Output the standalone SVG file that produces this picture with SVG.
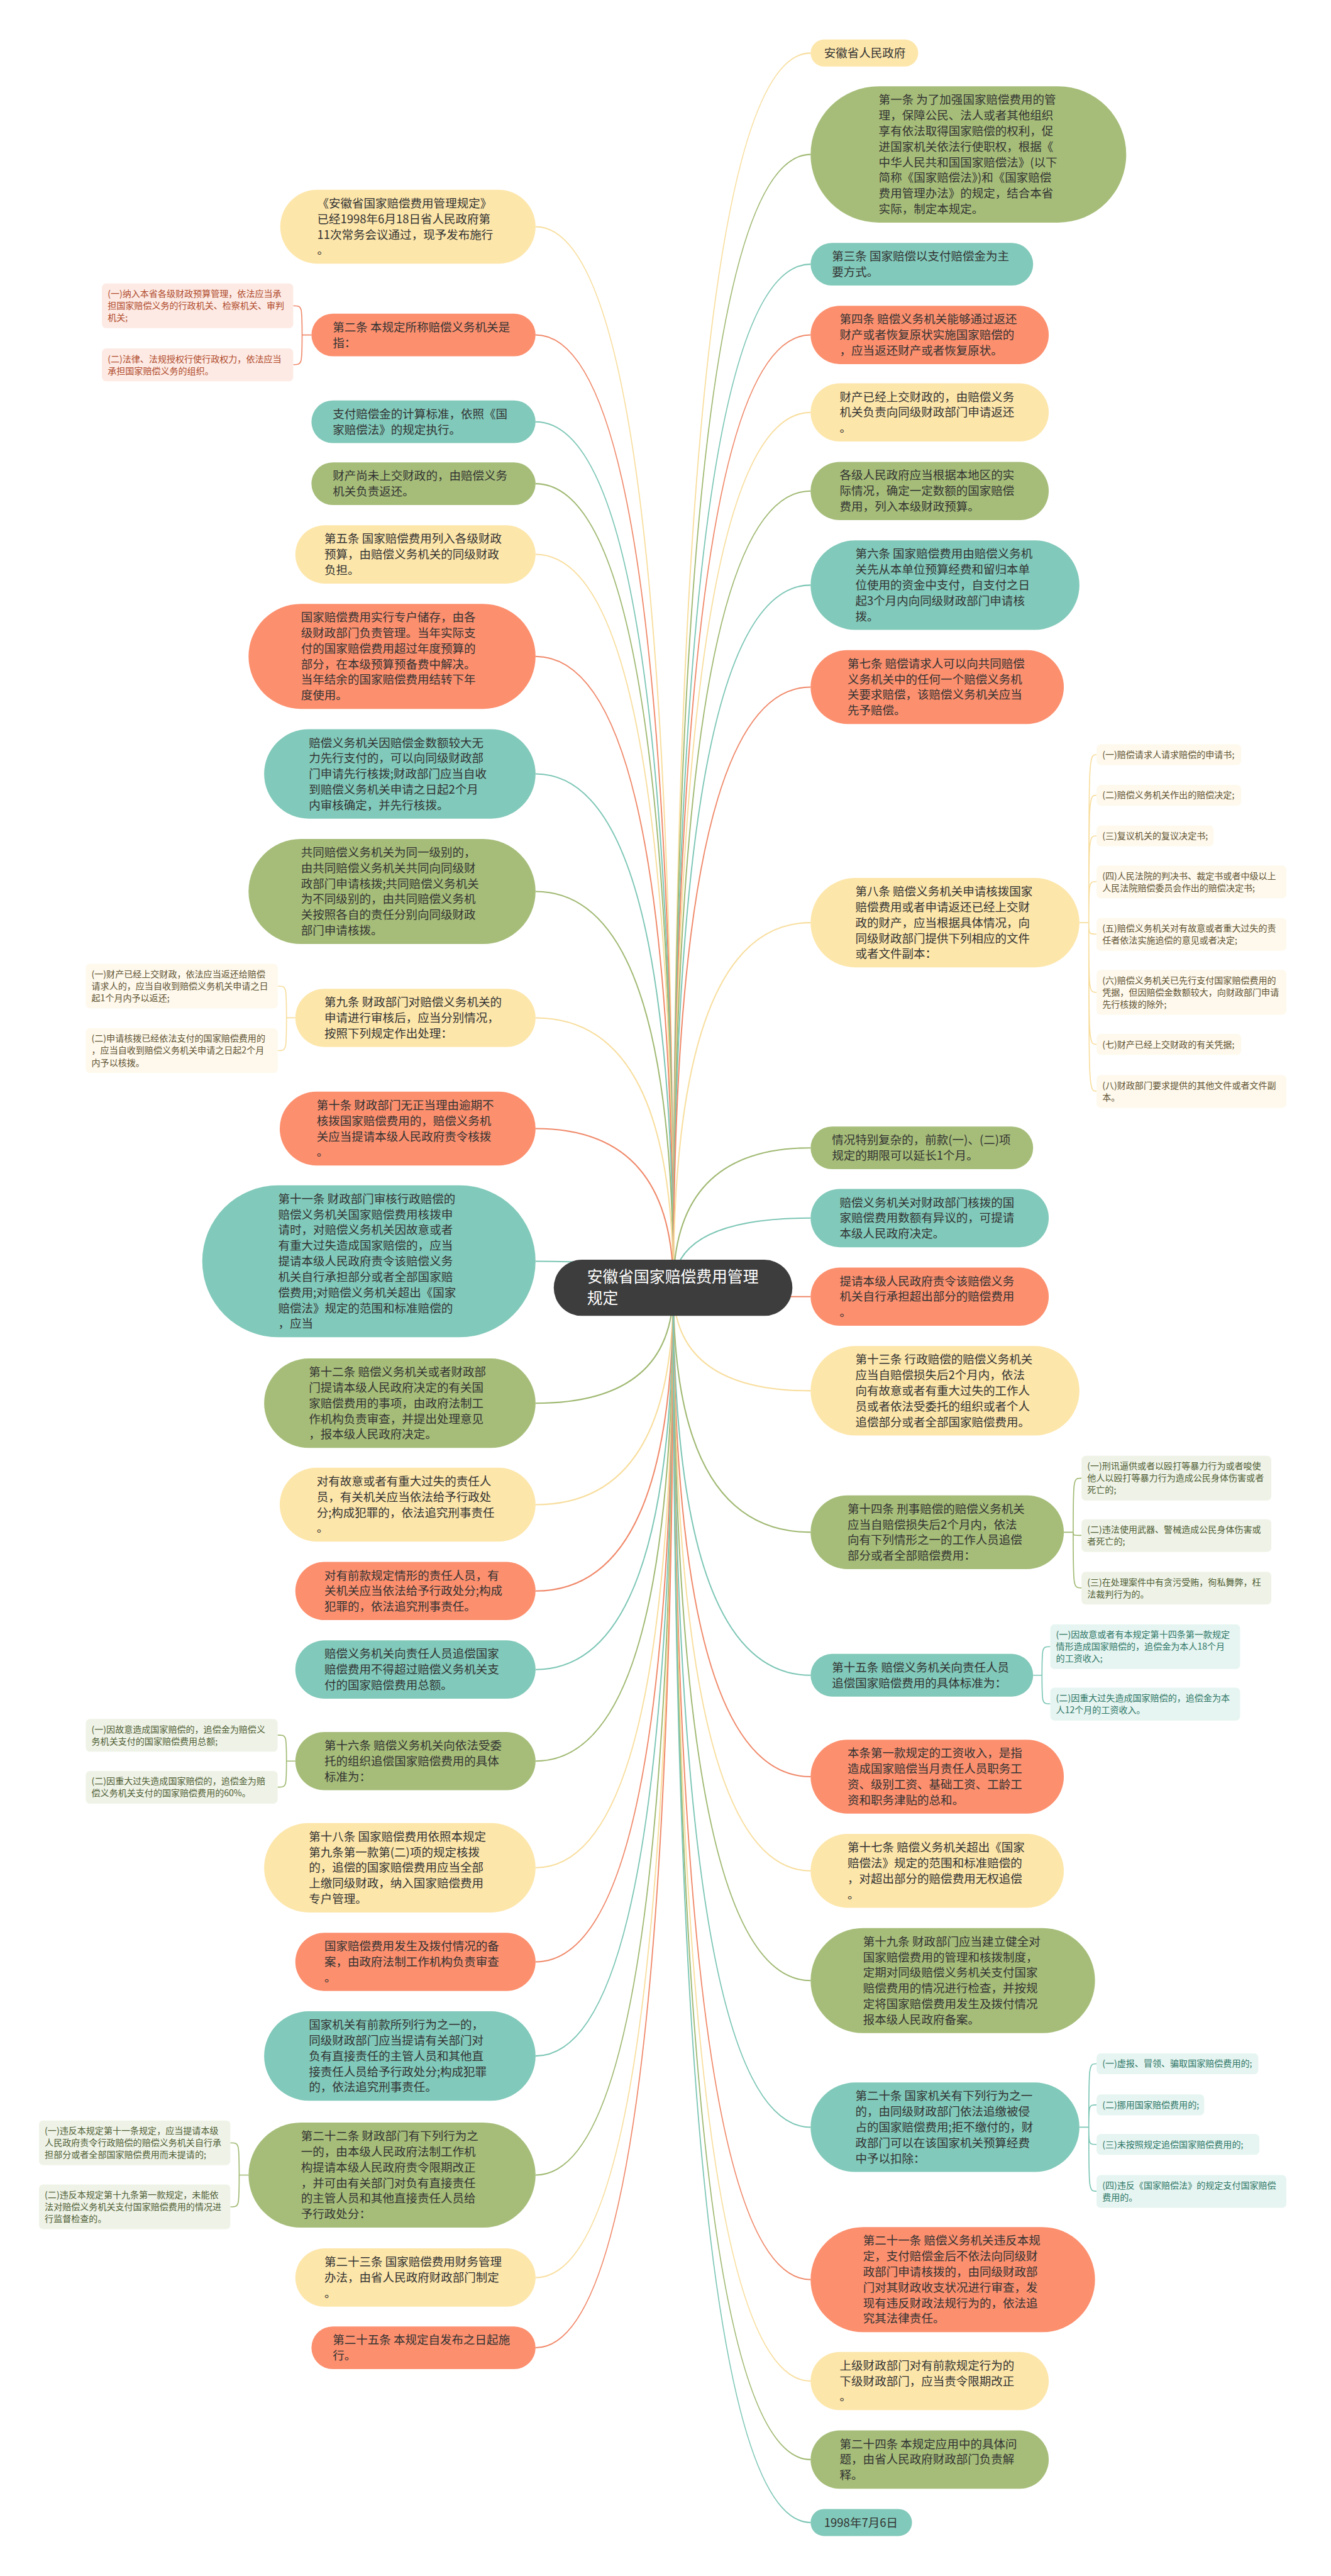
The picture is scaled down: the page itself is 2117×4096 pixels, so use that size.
<svg xmlns="http://www.w3.org/2000/svg" width="2117" height="4096" viewBox="0 0 2117 4096">
<style>
.y{fill:#FDE6AA}.o{fill:#FC8F6E}.t{fill:#81C9BA}.g{fill:#A6BD79}
.sy{fill:#FEF9EC}.so{fill:#FDEAE4}.sg{fill:#EFF3E7}.sc{fill:#E6F5F1}
.tx{font-family:"Noto Sans CJK SC","Noto Sans",sans-serif;font-size:22.4px;fill:#333333}
.ts{font-family:"Noto Sans CJK SC","Noto Sans",sans-serif;font-size:17px}
.tso{fill:#B04A2C}.tsy{fill:#5E5233}.tsg{fill:#4F5E36}.tsc{fill:#2E7567}
.cy{stroke:#F8DE9E}.co{stroke:#F0896A}.ct{stroke:#7CC6B5}.cg{stroke:#A0B972}
#links path{fill:none;stroke-width:2.5}
#sublinks path{fill:none;stroke-width:2}
</style>
<rect x="0" y="0" width="2117" height="4096" fill="#FFFFFF"/>
<g transform="scale(0.827)">
<g id="links">
<path class="cy" d="M1030 436Q1295 436 1295 2476"/>
<path class="co" d="M1030 644Q1295 644 1295 2476"/>
<path class="ct" d="M1030 811Q1295 811 1295 2476"/>
<path class="cg" d="M1030 930Q1295 930 1295 2476"/>
<path class="cy" d="M1030 1066Q1295 1066 1295 2476"/>
<path class="co" d="M1030 1262Q1295 1262 1295 2476"/>
<path class="ct" d="M1030 1488Q1295 1488 1295 2476"/>
<path class="cg" d="M1030 1714Q1295 1714 1295 2476"/>
<path class="cy" d="M1030 1957Q1295 1957 1295 2476"/>
<path class="co" d="M1030 2170Q1295 2170 1295 2476"/>
<path class="ct" d="M1030 2425Q1295 2425 1295 2476"/>
<path class="cg" d="M1030 2698Q1295 2698 1295 2476"/>
<path class="cy" d="M1030 2893Q1295 2893 1295 2476"/>
<path class="co" d="M1030 3059Q1295 3059 1295 2476"/>
<path class="ct" d="M1030 3210Q1295 3210 1295 2476"/>
<path class="cg" d="M1030 3386Q1295 3386 1295 2476"/>
<path class="cy" d="M1030 3591Q1295 3591 1295 2476"/>
<path class="co" d="M1030 3772Q1295 3772 1295 2476"/>
<path class="ct" d="M1030 3953Q1295 3953 1295 2476"/>
<path class="cg" d="M1030 4182Q1295 4182 1295 2476"/>
<path class="cy" d="M1030 4379Q1295 4379 1295 2476"/>
<path class="co" d="M1030 4514Q1295 4514 1295 2476"/>
<path class="cy" d="M1559 102Q1295 102 1295 2476"/>
<path class="cg" d="M1559 297Q1295 297 1295 2476"/>
<path class="ct" d="M1559 508Q1295 508 1295 2476"/>
<path class="co" d="M1559 644Q1295 644 1295 2476"/>
<path class="cy" d="M1559 793Q1295 793 1295 2476"/>
<path class="cg" d="M1559 944Q1295 944 1295 2476"/>
<path class="ct" d="M1559 1125Q1295 1125 1295 2476"/>
<path class="co" d="M1559 1321Q1295 1321 1295 2476"/>
<path class="cy" d="M1559 1774Q1295 1774 1295 2476"/>
<path class="cg" d="M1559 2207Q1295 2207 1295 2476"/>
<path class="ct" d="M1559 2342Q1295 2342 1295 2476"/>
<path class="co" d="M1559 2493Q1295 2493 1295 2476"/>
<path class="cy" d="M1559 2674Q1295 2674 1295 2476"/>
<path class="cg" d="M1559 2946Q1295 2946 1295 2476"/>
<path class="ct" d="M1559 3221Q1295 3221 1295 2476"/>
<path class="co" d="M1559 3416Q1295 3416 1295 2476"/>
<path class="cy" d="M1559 3597Q1295 3597 1295 2476"/>
<path class="cg" d="M1559 3808Q1295 3808 1295 2476"/>
<path class="ct" d="M1559 4090Q1295 4090 1295 2476"/>
<path class="co" d="M1559 4383Q1295 4383 1295 2476"/>
<path class="cy" d="M1559 4578Q1295 4578 1295 2476"/>
<path class="cg" d="M1559 4729Q1295 4729 1295 2476"/>
<path class="ct" d="M1559 4850Q1295 4850 1295 2476"/>
</g>
<g id="sublinks">
<path class="co" d="M599 644H581M581 644C581 588 581 588 564 588M581 644C581 701 581 701 564 701"/>
<path class="cy" d="M568 1957H551M551 1957C551 1896 551 1896 534 1896M551 1957C551 2020 551 2020 534 2020"/>
<path class="cg" d="M568 3386H551M551 3386C551 3336 551 3336 534 3336M551 3386C551 3436 551 3436 534 3436"/>
<path class="cg" d="M478 4182H460M460 4182C460 4120 460 4120 443 4120M460 4182C460 4243 460 4243 443 4243"/>
<path class="cy" d="M2076 1774H2094M2094 1774C2094 1451 2094 1451 2109 1451M2094 1774C2094 1529 2094 1529 2109 1529M2094 1774C2094 1607 2094 1607 2109 1607M2094 1774C2094 1695 2094 1695 2109 1695M2094 1774C2094 1796 2094 1796 2109 1796M2094 1774C2094 1908 2094 1908 2109 1908M2094 1774C2094 2008 2094 2008 2109 2008M2094 1774C2094 2098 2094 2098 2109 2098"/>
<path class="cg" d="M2046 2946H2064M2064 2946C2064 2842 2064 2842 2080 2842M2064 2946C2064 2952 2064 2952 2080 2952M2064 2946C2064 3053 2064 3053 2080 3053"/>
<path class="ct" d="M1987 3221H2004M2004 3221C2004 3166 2004 3166 2020 3166M2004 3221C2004 3276 2004 3276 2020 3276"/>
<path class="ct" d="M2076 4090H2094M2094 4090C2094 3968 2094 3968 2109 3968M2094 4090C2094 4047 2094 4047 2109 4047M2094 4090C2094 4123 2094 4123 2109 4123M2094 4090C2094 4213 2094 4213 2109 4213"/>
</g>
<g id="center">
<rect x="1065" y="2422" width="459" height="108" rx="54" fill="#3D3D3D"/>
<text font-family="'Noto Sans CJK SC','Noto Sans',sans-serif" font-size="30" fill="#FFFFFF"><tspan x="1129" y="2466">安徽省国家赔偿费用管理</tspan><tspan x="1129" y="2507">规定</tspan></text>
</g>
<g id="L1"><rect class="y" x="539" y="365" width="491" height="142" rx="71"/><text class="tx"><tspan x="610" y="399">《安徽省国家赔偿费用管理规定》</tspan><tspan x="610" y="429">已经1998年6月18日省人民政府第</tspan><tspan x="610" y="459">11次常务会议通过，现予发布施行</tspan><tspan x="610" y="489">。</tspan></text></g>
<g id="L2"><rect class="o" x="599" y="603" width="431" height="82" rx="41"/><text class="tx"><tspan x="640" y="637">第二条 本规定所称赔偿义务机关是</tspan><tspan x="640" y="667">指：</tspan></text></g>
<g id="L3"><rect class="t" x="599" y="770" width="431" height="82" rx="41"/><text class="tx"><tspan x="640" y="804">支付赔偿金的计算标准，依照《国</tspan><tspan x="640" y="834">家赔偿法》的规定执行。</tspan></text></g>
<g id="L4"><rect class="g" x="599" y="889" width="431" height="82" rx="41"/><text class="tx"><tspan x="640" y="923">财产尚未上交财政的，由赔偿义务</tspan><tspan x="640" y="953">机关负责返还。</tspan></text></g>
<g id="L5"><rect class="y" x="568" y="1010" width="462" height="112" rx="56"/><text class="tx"><tspan x="624" y="1044">第五条 国家赔偿费用列入各级财政</tspan><tspan x="624" y="1074">预算，由赔偿义务机关的同级财政</tspan><tspan x="624" y="1104">负担。</tspan></text></g>
<g id="L6"><rect class="o" x="478" y="1161" width="552" height="202" rx="101"/><text class="tx"><tspan x="579" y="1195">国家赔偿费用实行专户储存，由各</tspan><tspan x="579" y="1225">级财政部门负责管理。当年实际支</tspan><tspan x="579" y="1255">付的国家赔偿费用超过年度预算的</tspan><tspan x="579" y="1285">部分，在本级预算预备费中解决。</tspan><tspan x="579" y="1315">当年结余的国家赔偿费用结转下年</tspan><tspan x="579" y="1345">度使用。</tspan></text></g>
<g id="L7"><rect class="t" x="508" y="1402" width="522" height="172" rx="86"/><text class="tx"><tspan x="594" y="1436">赔偿义务机关因赔偿金数额较大无</tspan><tspan x="594" y="1466">力先行支付的，可以向同级财政部</tspan><tspan x="594" y="1496">门申请先行核拨;财政部门应当自收</tspan><tspan x="594" y="1526">到赔偿义务机关申请之日起2个月</tspan><tspan x="594" y="1556">内审核确定，并先行核拨。</tspan></text></g>
<g id="L8"><rect class="g" x="478" y="1613" width="552" height="202" rx="101"/><text class="tx"><tspan x="579" y="1647">共同赔偿义务机关为同一级别的，</tspan><tspan x="579" y="1677">由共同赔偿义务机关共同向同级财</tspan><tspan x="579" y="1707">政部门申请核拨;共同赔偿义务机关</tspan><tspan x="579" y="1737">为不同级别的，由共同赔偿义务机</tspan><tspan x="579" y="1767">关按照各自的责任分别向同级财政</tspan><tspan x="579" y="1797">部门申请核拨。</tspan></text></g>
<g id="L9"><rect class="y" x="568" y="1901" width="462" height="112" rx="56"/><text class="tx"><tspan x="624" y="1935">第九条 财政部门对赔偿义务机关的</tspan><tspan x="624" y="1965">申请进行审核后，应当分别情况，</tspan><tspan x="624" y="1995">按照下列规定作出处理：</tspan></text></g>
<g id="L10"><rect class="o" x="538" y="2099" width="492" height="142" rx="71"/><text class="tx"><tspan x="609" y="2133">第十条 财政部门无正当理由逾期不</tspan><tspan x="609" y="2163">核拨国家赔偿费用的，赔偿义务机</tspan><tspan x="609" y="2193">关应当提请本级人民政府责令核拨</tspan><tspan x="609" y="2223">。</tspan></text></g>
<g id="L11"><rect class="t" x="389" y="2279" width="641" height="292" rx="146"/><text class="tx"><tspan x="535" y="2313">第十一条 财政部门审核行政赔偿的</tspan><tspan x="535" y="2343">赔偿义务机关国家赔偿费用核拨申</tspan><tspan x="535" y="2373">请时，对赔偿义务机关因故意或者</tspan><tspan x="535" y="2403">有重大过失造成国家赔偿的，应当</tspan><tspan x="535" y="2433">提请本级人民政府责令该赔偿义务</tspan><tspan x="535" y="2463">机关自行承担部分或者全部国家赔</tspan><tspan x="535" y="2493">偿费用;对赔偿义务机关超出《国家</tspan><tspan x="535" y="2523">赔偿法》规定的范围和标准赔偿的</tspan><tspan x="535" y="2553">，应当</tspan></text></g>
<g id="L12"><rect class="g" x="508" y="2612" width="522" height="172" rx="86"/><text class="tx"><tspan x="594" y="2646">第十二条 赔偿义务机关或者财政部</tspan><tspan x="594" y="2676">门提请本级人民政府决定的有关国</tspan><tspan x="594" y="2706">家赔偿费用的事项，由政府法制工</tspan><tspan x="594" y="2736">作机构负责审查，并提出处理意见</tspan><tspan x="594" y="2766">，报本级人民政府决定。</tspan></text></g>
<g id="L13"><rect class="y" x="538" y="2822" width="492" height="142" rx="71"/><text class="tx"><tspan x="609" y="2856">对有故意或者有重大过失的责任人</tspan><tspan x="609" y="2886">员，有关机关应当依法给予行政处</tspan><tspan x="609" y="2916">分;构成犯罪的，依法追究刑事责任</tspan><tspan x="609" y="2946">。</tspan></text></g>
<g id="L14"><rect class="o" x="568" y="3003" width="462" height="112" rx="56"/><text class="tx"><tspan x="624" y="3037">对有前款规定情形的责任人员，有</tspan><tspan x="624" y="3067">关机关应当依法给予行政处分;构成</tspan><tspan x="624" y="3097">犯罪的，依法追究刑事责任。</tspan></text></g>
<g id="L15"><rect class="t" x="568" y="3154" width="462" height="112" rx="56"/><text class="tx"><tspan x="624" y="3188">赔偿义务机关向责任人员追偿国家</tspan><tspan x="624" y="3218">赔偿费用不得超过赔偿义务机关支</tspan><tspan x="624" y="3248">付的国家赔偿费用总额。</tspan></text></g>
<g id="L16"><rect class="g" x="568" y="3330" width="462" height="112" rx="56"/><text class="tx"><tspan x="624" y="3364">第十六条 赔偿义务机关向依法受委</tspan><tspan x="624" y="3394">托的组织追偿国家赔偿费用的具体</tspan><tspan x="624" y="3424">标准为：</tspan></text></g>
<g id="L17"><rect class="y" x="508" y="3505" width="522" height="172" rx="86"/><text class="tx"><tspan x="594" y="3539">第十八条 国家赔偿费用依照本规定</tspan><tspan x="594" y="3569">第九条第一款第(二)项的规定核拨</tspan><tspan x="594" y="3599">的，追偿的国家赔偿费用应当全部</tspan><tspan x="594" y="3629">上缴同级财政，纳入国家赔偿费用</tspan><tspan x="594" y="3659">专户管理。</tspan></text></g>
<g id="L18"><rect class="o" x="568" y="3716" width="462" height="112" rx="56"/><text class="tx"><tspan x="624" y="3750">国家赔偿费用发生及拨付情况的备</tspan><tspan x="624" y="3780">案，由政府法制工作机构负责审查</tspan><tspan x="624" y="3810">。</tspan></text></g>
<g id="L19"><rect class="t" x="508" y="3867" width="522" height="172" rx="86"/><text class="tx"><tspan x="594" y="3901">国家机关有前款所列行为之一的，</tspan><tspan x="594" y="3931">同级财政部门应当提请有关部门对</tspan><tspan x="594" y="3961">负有直接责任的主管人员和其他直</tspan><tspan x="594" y="3991">接责任人员给予行政处分;构成犯罪</tspan><tspan x="594" y="4021">的，依法追究刑事责任。</tspan></text></g>
<g id="L20"><rect class="g" x="478" y="4081" width="552" height="202" rx="101"/><text class="tx"><tspan x="579" y="4115">第二十二条 财政部门有下列行为之</tspan><tspan x="579" y="4145">一的，由本级人民政府法制工作机</tspan><tspan x="579" y="4175">构提请本级人民政府责令限期改正</tspan><tspan x="579" y="4205">，并可由有关部门对负有直接责任</tspan><tspan x="579" y="4235">的主管人员和其他直接责任人员给</tspan><tspan x="579" y="4265">予行政处分：</tspan></text></g>
<g id="L21"><rect class="y" x="568" y="4323" width="462" height="112" rx="56"/><text class="tx"><tspan x="624" y="4357">第二十三条 国家赔偿费用财务管理</tspan><tspan x="624" y="4387">办法，由省人民政府财政部门制定</tspan><tspan x="624" y="4417">。</tspan></text></g>
<g id="L22"><rect class="o" x="599" y="4473" width="431" height="82" rx="41"/><text class="tx"><tspan x="640" y="4507">第二十五条 本规定自发布之日起施</tspan><tspan x="640" y="4537">行。</tspan></text></g>
<g id="S1a"><rect class="so" x="196" y="545" width="368" height="86" rx="8"/><text class="ts tso"><tspan x="207" y="571">(一)纳入本省各级财政预算管理，依法应当承</tspan><tspan x="207" y="594">担国家赔偿义务的行政机关、检察机关、审判</tspan><tspan x="207" y="617">机关;</tspan></text></g>
<g id="S1b"><rect class="so" x="196" y="670" width="368" height="63" rx="8"/><text class="ts tso"><tspan x="207" y="696">(二)法律、法规授权行使行政权力，依法应当</tspan><tspan x="207" y="719">承担国家赔偿义务的组织。</tspan></text></g>
<g id="S9a"><rect class="sy" x="165" y="1853" width="369" height="86" rx="8"/><text class="ts tsy"><tspan x="176" y="1879">(一)财产已经上交财政，依法应当返还给赔偿</tspan><tspan x="176" y="1902">请求人的，应当自收到赔偿义务机关申请之日</tspan><tspan x="176" y="1925">起1个月内予以返还;</tspan></text></g>
<g id="S9b"><rect class="sy" x="165" y="1977" width="369" height="86" rx="8"/><text class="ts tsy"><tspan x="176" y="2003">(二)申请核拨已经依法支付的国家赔偿费用的</tspan><tspan x="176" y="2026">，应当自收到赔偿义务机关申请之日起2个月</tspan><tspan x="176" y="2049">内予以核拨。</tspan></text></g>
<g id="S16a"><rect class="sg" x="165" y="3305" width="369" height="63" rx="8"/><text class="ts tsg"><tspan x="176" y="3331">(一)因故意造成国家赔偿的，追偿金为赔偿义</tspan><tspan x="176" y="3354">务机关支付的国家赔偿费用总额;</tspan></text></g>
<g id="S16b"><rect class="sg" x="165" y="3405" width="369" height="63" rx="8"/><text class="ts tsg"><tspan x="176" y="3431">(二)因重大过失造成国家赔偿的，追偿金为赔</tspan><tspan x="176" y="3454">偿义务机关支付的国家赔偿费用的60%。</tspan></text></g>
<g id="S22a"><rect class="sg" x="75" y="4077" width="368" height="86" rx="8"/><text class="ts tsg"><tspan x="86" y="4103">(一)违反本规定第十一条规定，应当提请本级</tspan><tspan x="86" y="4126">人民政府责令行政赔偿的赔偿义务机关自行承</tspan><tspan x="86" y="4149">担部分或者全部国家赔偿费用而未提请的;</tspan></text></g>
<g id="S22b"><rect class="sg" x="75" y="4200" width="368" height="86" rx="8"/><text class="ts tsg"><tspan x="86" y="4226">(二)违反本规定第十九条第一款规定，未能依</tspan><tspan x="86" y="4249">法对赔偿义务机关支付国家赔偿费用的情况进</tspan><tspan x="86" y="4272">行监督检查的。</tspan></text></g>
<g id="R1"><rect class="y" x="1559" y="76" width="207" height="52" rx="26"/><text class="tx"><tspan x="1585" y="110">安徽省人民政府</tspan></text></g>
<g id="R2"><rect class="g" x="1559" y="166" width="607" height="262" rx="131"/><text class="tx"><tspan x="1690" y="200">第一条 为了加强国家赔偿费用的管</tspan><tspan x="1690" y="230">理，保障公民、法人或者其他组织</tspan><tspan x="1690" y="260">享有依法取得国家赔偿的权利，促</tspan><tspan x="1690" y="290">进国家机关依法行使职权，根据《</tspan><tspan x="1690" y="320">中华人民共和国国家赔偿法》(以下</tspan><tspan x="1690" y="350">简称《国家赔偿法》)和《国家赔偿</tspan><tspan x="1690" y="380">费用管理办法》的规定，结合本省</tspan><tspan x="1690" y="410">实际，制定本规定。</tspan></text></g>
<g id="R3"><rect class="t" x="1559" y="467" width="428" height="82" rx="41"/><text class="tx"><tspan x="1600" y="501">第三条 国家赔偿以支付赔偿金为主</tspan><tspan x="1600" y="531">要方式。</tspan></text></g>
<g id="R4"><rect class="o" x="1559" y="588" width="458" height="112" rx="56"/><text class="tx"><tspan x="1615" y="622">第四条 赔偿义务机关能够通过返还</tspan><tspan x="1615" y="652">财产或者恢复原状实施国家赔偿的</tspan><tspan x="1615" y="682">，应当返还财产或者恢复原状。</tspan></text></g>
<g id="R5"><rect class="y" x="1559" y="737" width="458" height="112" rx="56"/><text class="tx"><tspan x="1615" y="771">财产已经上交财政的，由赔偿义务</tspan><tspan x="1615" y="801">机关负责向同级财政部门申请返还</tspan><tspan x="1615" y="831">。</tspan></text></g>
<g id="R6"><rect class="g" x="1559" y="888" width="458" height="112" rx="56"/><text class="tx"><tspan x="1615" y="922">各级人民政府应当根据本地区的实</tspan><tspan x="1615" y="952">际情况，确定一定数额的国家赔偿</tspan><tspan x="1615" y="982">费用，列入本级财政预算。</tspan></text></g>
<g id="R7"><rect class="t" x="1559" y="1039" width="517" height="172" rx="86"/><text class="tx"><tspan x="1645" y="1073">第六条 国家赔偿费用由赔偿义务机</tspan><tspan x="1645" y="1103">关先从本单位预算经费和留归本单</tspan><tspan x="1645" y="1133">位使用的资金中支付，自支付之日</tspan><tspan x="1645" y="1163">起3个月内向同级财政部门申请核</tspan><tspan x="1645" y="1193">拨。</tspan></text></g>
<g id="R8"><rect class="o" x="1559" y="1250" width="487" height="142" rx="71"/><text class="tx"><tspan x="1630" y="1284">第七条 赔偿请求人可以向共同赔偿</tspan><tspan x="1630" y="1314">义务机关中的任何一个赔偿义务机</tspan><tspan x="1630" y="1344">关要求赔偿，该赔偿义务机关应当</tspan><tspan x="1630" y="1374">先予赔偿。</tspan></text></g>
<g id="R9"><rect class="y" x="1559" y="1688" width="517" height="172" rx="86"/><text class="tx"><tspan x="1645" y="1722">第八条 赔偿义务机关申请核拨国家</tspan><tspan x="1645" y="1752">赔偿费用或者申请返还已经上交财</tspan><tspan x="1645" y="1782">政的财产，应当根据具体情况，向</tspan><tspan x="1645" y="1812">同级财政部门提供下列相应的文件</tspan><tspan x="1645" y="1842">或者文件副本：</tspan></text></g>
<g id="R10"><rect class="g" x="1559" y="2166" width="428" height="82" rx="41"/><text class="tx"><tspan x="1600" y="2200">情况特别复杂的，前款(一)、(二)项</tspan><tspan x="1600" y="2230">规定的期限可以延长1个月。</tspan></text></g>
<g id="R11"><rect class="t" x="1559" y="2286" width="458" height="112" rx="56"/><text class="tx"><tspan x="1615" y="2320">赔偿义务机关对财政部门核拨的国</tspan><tspan x="1615" y="2350">家赔偿费用数额有异议的，可提请</tspan><tspan x="1615" y="2380">本级人民政府决定。</tspan></text></g>
<g id="R12"><rect class="o" x="1559" y="2437" width="458" height="112" rx="56"/><text class="tx"><tspan x="1615" y="2471">提请本级人民政府责令该赔偿义务</tspan><tspan x="1615" y="2501">机关自行承担超出部分的赔偿费用</tspan><tspan x="1615" y="2531">。</tspan></text></g>
<g id="R13"><rect class="y" x="1559" y="2588" width="517" height="172" rx="86"/><text class="tx"><tspan x="1645" y="2622">第十三条 行政赔偿的赔偿义务机关</tspan><tspan x="1645" y="2652">应当自赔偿损失后2个月内，依法</tspan><tspan x="1645" y="2682">向有故意或者有重大过失的工作人</tspan><tspan x="1645" y="2712">员或者依法受委托的组织或者个人</tspan><tspan x="1645" y="2742">追偿部分或者全部国家赔偿费用。</tspan></text></g>
<g id="R14"><rect class="g" x="1559" y="2875" width="487" height="142" rx="71"/><text class="tx"><tspan x="1630" y="2909">第十四条 刑事赔偿的赔偿义务机关</tspan><tspan x="1630" y="2939">应当自赔偿损失后2个月内，依法</tspan><tspan x="1630" y="2969">向有下列情形之一的工作人员追偿</tspan><tspan x="1630" y="2999">部分或者全部赔偿费用：</tspan></text></g>
<g id="R15"><rect class="t" x="1559" y="3180" width="428" height="82" rx="41"/><text class="tx"><tspan x="1600" y="3214">第十五条 赔偿义务机关向责任人员</tspan><tspan x="1600" y="3244">追偿国家赔偿费用的具体标准为：</tspan></text></g>
<g id="R16"><rect class="o" x="1559" y="3345" width="487" height="142" rx="71"/><text class="tx"><tspan x="1630" y="3379">本条第一款规定的工资收入，是指</tspan><tspan x="1630" y="3409">造成国家赔偿当月责任人员职务工</tspan><tspan x="1630" y="3439">资、级别工资、基础工资、工龄工</tspan><tspan x="1630" y="3469">资和职务津贴的总和。</tspan></text></g>
<g id="R17"><rect class="y" x="1559" y="3526" width="487" height="142" rx="71"/><text class="tx"><tspan x="1630" y="3560">第十七条 赔偿义务机关超出《国家</tspan><tspan x="1630" y="3590">赔偿法》规定的范围和标准赔偿的</tspan><tspan x="1630" y="3620">，对超出部分的赔偿费用无权追偿</tspan><tspan x="1630" y="3650">。</tspan></text></g>
<g id="R18"><rect class="g" x="1559" y="3707" width="547" height="202" rx="101"/><text class="tx"><tspan x="1660" y="3741">第十九条 财政部门应当建立健全对</tspan><tspan x="1660" y="3771">国家赔偿费用的管理和核拨制度，</tspan><tspan x="1660" y="3801">定期对同级赔偿义务机关支付国家</tspan><tspan x="1660" y="3831">赔偿费用的情况进行检查，并按规</tspan><tspan x="1660" y="3861">定将国家赔偿费用发生及拨付情况</tspan><tspan x="1660" y="3891">报本级人民政府备案。</tspan></text></g>
<g id="R19"><rect class="t" x="1559" y="4004" width="517" height="172" rx="86"/><text class="tx"><tspan x="1645" y="4038">第二十条 国家机关有下列行为之一</tspan><tspan x="1645" y="4068">的，由同级财政部门依法追缴被侵</tspan><tspan x="1645" y="4098">占的国家赔偿费用;拒不缴付的，财</tspan><tspan x="1645" y="4128">政部门可以在该国家机关预算经费</tspan><tspan x="1645" y="4158">中予以扣除：</tspan></text></g>
<g id="R20"><rect class="o" x="1559" y="4282" width="547" height="202" rx="101"/><text class="tx"><tspan x="1660" y="4316">第二十一条 赔偿义务机关违反本规</tspan><tspan x="1660" y="4346">定，支付赔偿金后不依法向同级财</tspan><tspan x="1660" y="4376">政部门申请核拨的，由同级财政部</tspan><tspan x="1660" y="4406">门对其财政收支状况进行审查，发</tspan><tspan x="1660" y="4436">现有违反财政法规行为的，依法追</tspan><tspan x="1660" y="4466">究其法律责任。</tspan></text></g>
<g id="R21"><rect class="y" x="1559" y="4522" width="458" height="112" rx="56"/><text class="tx"><tspan x="1615" y="4556">上级财政部门对有前款规定行为的</tspan><tspan x="1615" y="4586">下级财政部门，应当责令限期改正</tspan><tspan x="1615" y="4616">。</tspan></text></g>
<g id="R22"><rect class="g" x="1559" y="4673" width="458" height="112" rx="56"/><text class="tx"><tspan x="1615" y="4707">第二十四条 本规定应用中的具体问</tspan><tspan x="1615" y="4737">题，由省人民政府财政部门负责解</tspan><tspan x="1615" y="4767">释。</tspan></text></g>
<g id="R23"><rect class="t" x="1559" y="4824" width="195" height="52" rx="26"/><text class="tx"><tspan x="1585" y="4858">1998年7月6日</tspan></text></g>
<g id="S8a"><rect class="sy" x="2109" y="1431" width="278" height="40" rx="8"/><text class="ts tsy"><tspan x="2120" y="1457">(一)赔偿请求人请求赔偿的申请书;</tspan></text></g>
<g id="S8b"><rect class="sy" x="2109" y="1509" width="278" height="40" rx="8"/><text class="ts tsy"><tspan x="2120" y="1535">(二)赔偿义务机关作出的赔偿决定;</tspan></text></g>
<g id="S8c"><rect class="sy" x="2109" y="1587" width="225" height="40" rx="8"/><text class="ts tsy"><tspan x="2120" y="1613">(三)复议机关的复议决定书;</tspan></text></g>
<g id="S8d"><rect class="sy" x="2109" y="1664" width="365" height="63" rx="8"/><text class="ts tsy"><tspan x="2120" y="1690">(四)人民法院的判决书、裁定书或者中级以上</tspan><tspan x="2120" y="1713">人民法院赔偿委员会作出的赔偿决定书;</tspan></text></g>
<g id="S8e"><rect class="sy" x="2109" y="1765" width="365" height="63" rx="8"/><text class="ts tsy"><tspan x="2120" y="1791">(五)赔偿义务机关对有故意或者重大过失的责</tspan><tspan x="2120" y="1814">任者依法实施追偿的意见或者决定;</tspan></text></g>
<g id="S8f"><rect class="sy" x="2109" y="1865" width="365" height="86" rx="8"/><text class="ts tsy"><tspan x="2120" y="1891">(六)赔偿义务机关已先行支付国家赔偿费用的</tspan><tspan x="2120" y="1914">凭据，但因赔偿金数额较大，向财政部门申请</tspan><tspan x="2120" y="1937">先行核拨的除外;</tspan></text></g>
<g id="S8g"><rect class="sy" x="2109" y="1988" width="278" height="40" rx="8"/><text class="ts tsy"><tspan x="2120" y="2014">(七)财产已经上交财政的有关凭据;</tspan></text></g>
<g id="S8h"><rect class="sy" x="2109" y="2067" width="365" height="63" rx="8"/><text class="ts tsy"><tspan x="2120" y="2093">(八)财政部门要求提供的其他文件或者文件副</tspan><tspan x="2120" y="2116">本。</tspan></text></g>
<g id="S14a"><rect class="sg" x="2080" y="2799" width="365" height="86" rx="8"/><text class="ts tsg"><tspan x="2091" y="2825">(一)刑讯逼供或者以殴打等暴力行为或者唆使</tspan><tspan x="2091" y="2848">他人以殴打等暴力行为造成公民身体伤害或者</tspan><tspan x="2091" y="2871">死亡的;</tspan></text></g>
<g id="S14b"><rect class="sg" x="2080" y="2921" width="365" height="63" rx="8"/><text class="ts tsg"><tspan x="2091" y="2947">(二)违法使用武器、警械造成公民身体伤害或</tspan><tspan x="2091" y="2970">者死亡的;</tspan></text></g>
<g id="S14c"><rect class="sg" x="2080" y="3022" width="365" height="63" rx="8"/><text class="ts tsg"><tspan x="2091" y="3048">(三)在处理案件中有贪污受贿，徇私舞弊，枉</tspan><tspan x="2091" y="3071">法裁判行为的。</tspan></text></g>
<g id="S15a"><rect class="sc" x="2020" y="3123" width="365" height="86" rx="8"/><text class="ts tsc"><tspan x="2031" y="3149">(一)因故意或者有本规定第十四条第一款规定</tspan><tspan x="2031" y="3172">情形造成国家赔偿的，追偿金为本人18个月</tspan><tspan x="2031" y="3195">的工资收入;</tspan></text></g>
<g id="S15b"><rect class="sc" x="2020" y="3245" width="365" height="63" rx="8"/><text class="ts tsc"><tspan x="2031" y="3271">(二)因重大过失造成国家赔偿的，追偿金为本</tspan><tspan x="2031" y="3294">人12个月的工资收入。</tspan></text></g>
<g id="S20a"><rect class="sc" x="2109" y="3948" width="311" height="40" rx="8"/><text class="ts tsc"><tspan x="2120" y="3974">(一)虚报、冒领、骗取国家赔偿费用的;</tspan></text></g>
<g id="S20b"><rect class="sc" x="2109" y="4027" width="207" height="40" rx="8"/><text class="ts tsc"><tspan x="2120" y="4053">(二)挪用国家赔偿费用的;</tspan></text></g>
<g id="S20c"><rect class="sc" x="2109" y="4103" width="313" height="40" rx="8"/><text class="ts tsc"><tspan x="2120" y="4129">(三)未按照规定追偿国家赔偿费用的;</tspan></text></g>
<g id="S20d"><rect class="sc" x="2109" y="4182" width="365" height="63" rx="8"/><text class="ts tsc"><tspan x="2120" y="4208">(四)违反《国家赔偿法》的规定支付国家赔偿</tspan><tspan x="2120" y="4231">费用的。</tspan></text></g>
</g>
</svg>
